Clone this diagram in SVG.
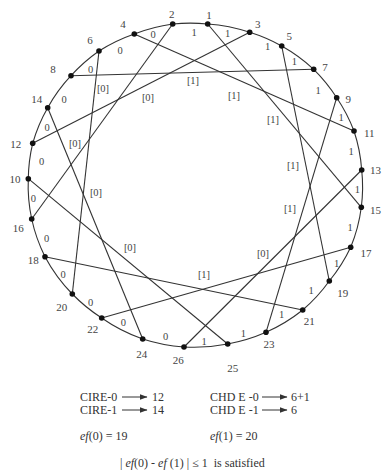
<svg xmlns="http://www.w3.org/2000/svg" width="382" height="472" viewBox="0 0 382 472">
<style>
.e{fill:none;stroke:#333;stroke-width:1.1}
.d{fill:#111}
.nl{font-family:"Liberation Serif","Times New Roman",serif;font-size:11px;fill:#444;text-anchor:middle}
.el{font-family:"Liberation Serif","Times New Roman",serif;font-size:10.5px;fill:#444;text-anchor:middle}
.t{font-family:"Liberation Serif","Times New Roman",serif;font-size:12px;fill:#333}
.i{font-style:italic}
.ar{stroke:#333;stroke-width:1;marker-end:url(#ah)}
</style>
<defs>
<marker id="ah" viewBox="0 0 8 6" refX="7.5" refY="3" markerWidth="8" markerHeight="6" markerUnits="userSpaceOnUse" orient="auto">
<path d="M0,0 L8,3 L0,6 Z" fill="#333"/>
</marker>
</defs>
<rect width="382" height="472" fill="#fff"/>
<g id="connectors">
<path class="e" d="M172.7,24 A167.5,162.5 0 0 1 207.7,24"/>
<path class="e" d="M207.7,24 A167.5,162.5 0 0 1 249.7,32.3"/>
<path class="e" d="M249.7,32.3 A167.5,162.5 0 0 1 281.7,46"/>
<path class="e" d="M281.7,46 A167.5,162.5 0 0 1 313.7,69.3"/>
<path class="e" d="M313.7,69.3 A167.5,162.5 0 0 1 336.7,97.7"/>
<path class="e" d="M336.7,97.7 A167.5,162.5 0 0 1 354,131"/>
<path class="e" d="M354,131 A167.5,162.5 0 0 1 361.7,170"/>
<path class="e" d="M361.7,170 A167.5,162.5 0 0 1 361.3,207.3"/>
<path class="e" d="M361.3,207.3 A167.5,162.5 0 0 1 350.7,247.3"/>
<path class="e" d="M350.7,247.3 A167.5,162.5 0 0 1 329.3,281"/>
<path class="e" d="M329.3,281 A167.5,162.5 0 0 1 302.7,310"/>
<path class="e" d="M302.7,310 A167.5,162.5 0 0 1 266,332.3"/>
<path class="e" d="M266,332.3 A167.5,162.5 0 0 1 227.7,344"/>
<path class="e" d="M227.7,344 A167.5,162.5 0 0 1 184,347"/>
<path class="e" d="M184,347 A167.5,162.5 0 0 1 142.7,339"/>
<path class="e" d="M142.7,339 A167.5,162.5 0 0 1 101.7,318"/>
<path class="e" d="M101.7,318 A167.5,162.5 0 0 1 72.3,294"/>
<path class="e" d="M72.3,294 A167.5,162.5 0 0 1 45,256.7"/>
<path class="e" d="M45,256.7 A167.5,162.5 0 0 1 31.7,219"/>
<path class="e" d="M31.7,219 A167.5,162.5 0 0 1 28.3,178.7"/>
<path class="e" d="M28.3,178.7 A167.5,162.5 0 0 1 32.7,143.3"/>
<path class="e" d="M32.7,143.3 A167.5,162.5 0 0 1 47.7,107.7"/>
<path class="e" d="M47.7,107.7 A167.5,162.5 0 0 1 71,75.7"/>
<path class="e" d="M71,75.7 A167.5,162.5 0 0 1 99,51"/>
<path class="e" d="M99,51 A167.5,162.5 0 0 1 134.3,34"/>
<path class="e" d="M134.3,34 A167.5,162.5 0 0 1 172.7,24"/>
<path class="e" d="M134.3,34 L354,131"/>
<path class="e" d="M172.7,24 L31.7,219"/>
<path class="e" d="M99,51 L72.3,294"/>
<path class="e" d="M71,75.7 L313.7,69.3"/>
<path class="e" d="M47.7,107.7 L142.7,339"/>
<path class="e" d="M32.7,143.3 L249.7,32.3"/>
<path class="e" d="M28.3,178.7 L227.7,344"/>
<path class="e" d="M45,256.7 L302.7,310"/>
<path class="e" d="M101.7,318 L350.7,247.3"/>
<path class="e" d="M184,347 L361.7,170"/>
<path class="e" d="M266,332.3 L336.7,97.7"/>
<path class="e" d="M329.3,281 L281.7,46"/>
<path class="e" d="M207.7,24 L361.3,207.3"/>
</g>
<g id="edge-labels">
<text class="el" x="153" y="37.5">0</text>
<text class="el" x="120" y="54">0</text>
<text class="el" x="90.7" y="72.8">0</text>
<text class="el" x="64" y="102.8">0</text>
<text class="el" x="47" y="130.5">0</text>
<text class="el" x="41.7" y="165.2">0</text>
<text class="el" x="33.3" y="201.8">0</text>
<text class="el" x="46.7" y="241.8">0</text>
<text class="el" x="63" y="277.5">0</text>
<text class="el" x="90.7" y="306.2">0</text>
<text class="el" x="123.3" y="325.8">0</text>
<text class="el" x="165.7" y="339.5">0</text>
<text class="el" x="194" y="36.2">1</text>
<text class="el" x="227.7" y="36.8">1</text>
<text class="el" x="267.7" y="50.2">1</text>
<text class="el" x="294.3" y="65.2">1</text>
<text class="el" x="318" y="94">1</text>
<text class="el" x="341" y="120.8">1</text>
<text class="el" x="351" y="155.2">1</text>
<text class="el" x="357.3" y="193">1</text>
<text class="el" x="350" y="230.8">1</text>
<text class="el" x="336.5" y="266.5">1</text>
<text class="el" x="311" y="294.2">1</text>
<text class="el" x="281.7" y="317.5">1</text>
<text class="el" x="243.3" y="336.8">1</text>
<text class="el" x="204" y="345.2">1</text>
<text class="el" x="103" y="91.5">[0]</text>
<text class="el" x="148" y="100.5">[0]</text>
<text class="el" x="75" y="146.8">[0]</text>
<text class="el" x="96" y="195.5">[0]</text>
<text class="el" x="130" y="250.5">[0]</text>
<text class="el" x="263" y="256.5">[0]</text>
<text class="el" x="193" y="84">[1]</text>
<text class="el" x="234" y="98.5">[1]</text>
<text class="el" x="273" y="122.5">[1]</text>
<text class="el" x="293" y="168.5">[1]</text>
<text class="el" x="290" y="211.5">[1]</text>
<text class="el" x="204" y="277.5">[1]</text>
</g>
<g id="n1"><circle class="d" cx="207.7" cy="24" r="2.8"/><text class="nl" x="209" y="18.5">1</text></g>
<g id="n2"><circle class="d" cx="172.7" cy="24" r="2.8"/><text class="nl" x="171.7" y="17.8">2</text></g>
<g id="n3"><circle class="d" cx="249.7" cy="32.3" r="2.8"/><text class="nl" x="257.7" y="27.8">3</text></g>
<g id="n4"><circle class="d" cx="134.3" cy="34" r="2.8"/><text class="nl" x="123" y="27.8">4</text></g>
<g id="n5"><circle class="d" cx="281.7" cy="46" r="2.8"/><text class="nl" x="289.3" y="39.5">5</text></g>
<g id="n6"><circle class="d" cx="99" cy="51" r="2.8"/><text class="nl" x="90" y="43.8">6</text></g>
<g id="n7"><circle class="d" cx="313.7" cy="69.3" r="2.8"/><text class="nl" x="325" y="71.1">7</text></g>
<g id="n8"><circle class="d" cx="71" cy="75.7" r="2.8"/><text class="nl" x="53" y="72.8">8</text></g>
<g id="n9"><circle class="d" cx="336.7" cy="97.7" r="2.8"/><text class="nl" x="348.3" y="102.8">9</text></g>
<g id="n10"><circle class="d" cx="28.3" cy="178.7" r="2.8"/><text class="nl" x="15" y="182.5">10</text></g>
<g id="n11"><circle class="d" cx="354" cy="131" r="2.8"/><text class="nl" x="369.3" y="136.5">11</text></g>
<g id="n12"><circle class="d" cx="32.7" cy="143.3" r="2.8"/><text class="nl" x="15.7" y="148.1">12</text></g>
<g id="n13"><circle class="d" cx="361.7" cy="170" r="2.8"/><text class="nl" x="375.5" y="173.8">13</text></g>
<g id="n14"><circle class="d" cx="47.7" cy="107.7" r="2.8"/><text class="nl" x="36.7" y="103.1">14</text></g>
<g id="n15"><circle class="d" cx="361.3" cy="207.3" r="2.8"/><text class="nl" x="375.5" y="213.8">15</text></g>
<g id="n16"><circle class="d" cx="31.7" cy="219" r="2.8"/><text class="nl" x="18.3" y="232.1">16</text></g>
<g id="n17"><circle class="d" cx="350.7" cy="247.3" r="2.8"/><text class="nl" x="366" y="256.5">17</text></g>
<g id="n18"><circle class="d" cx="45" cy="256.7" r="2.8"/><text class="nl" x="33.3" y="263.8">18</text></g>
<g id="n19"><circle class="d" cx="329.3" cy="281" r="2.8"/><text class="nl" x="342.7" y="297.1">19</text></g>
<g id="n20"><circle class="d" cx="72.3" cy="294" r="2.8"/><text class="nl" x="61.7" y="311.1">20</text></g>
<g id="n21"><circle class="d" cx="302.7" cy="310" r="2.8"/><text class="nl" x="309.3" y="324.5">21</text></g>
<g id="n22"><circle class="d" cx="101.7" cy="318" r="2.8"/><text class="nl" x="92.7" y="332.8">22</text></g>
<g id="n23"><circle class="d" cx="266" cy="332.3" r="2.8"/><text class="nl" x="269" y="347.8">23</text></g>
<g id="n24"><circle class="d" cx="142.7" cy="339" r="2.8"/><text class="nl" x="141.7" y="357.8">24</text></g>
<g id="n25"><circle class="d" cx="227.7" cy="344" r="2.8"/><text class="nl" x="232.7" y="371.5">25</text></g>
<g id="n26"><circle class="d" cx="184" cy="347" r="2.8"/><text class="nl" x="178.3" y="363.8">26</text></g>
<g id="legend">
<text class="t" x="80" y="401">CIRE-0</text>
<line class="ar" x1="122" y1="397" x2="147" y2="397"/>
<text class="t" x="152" y="401">12</text>
<text class="t" x="80" y="414">CIRE-1</text>
<line class="ar" x1="122" y1="410" x2="147" y2="410"/>
<text class="t" x="152" y="414">14</text>
<text class="t" x="210" y="401">CHD E -0</text>
<line class="ar" x1="262" y1="397" x2="287" y2="397"/>
<text class="t" x="291" y="401">6+1</text>
<text class="t" x="210" y="414">CHD E -1</text>
<line class="ar" x1="262" y1="410" x2="287" y2="410"/>
<text class="t" x="291" y="414">6</text>
<text class="t" x="80" y="440"><tspan class="i">ef</tspan>(0) = 19</text>
<text class="t" x="210" y="440"><tspan class="i">ef</tspan>(1) = 20</text>
<text class="t" x="120" y="467">| <tspan class="i">ef</tspan>(0) - <tspan class="i">ef</tspan> (1) | ≤ 1 <tspan dx="3">is satisfied</tspan></text>
</g>
</svg>
